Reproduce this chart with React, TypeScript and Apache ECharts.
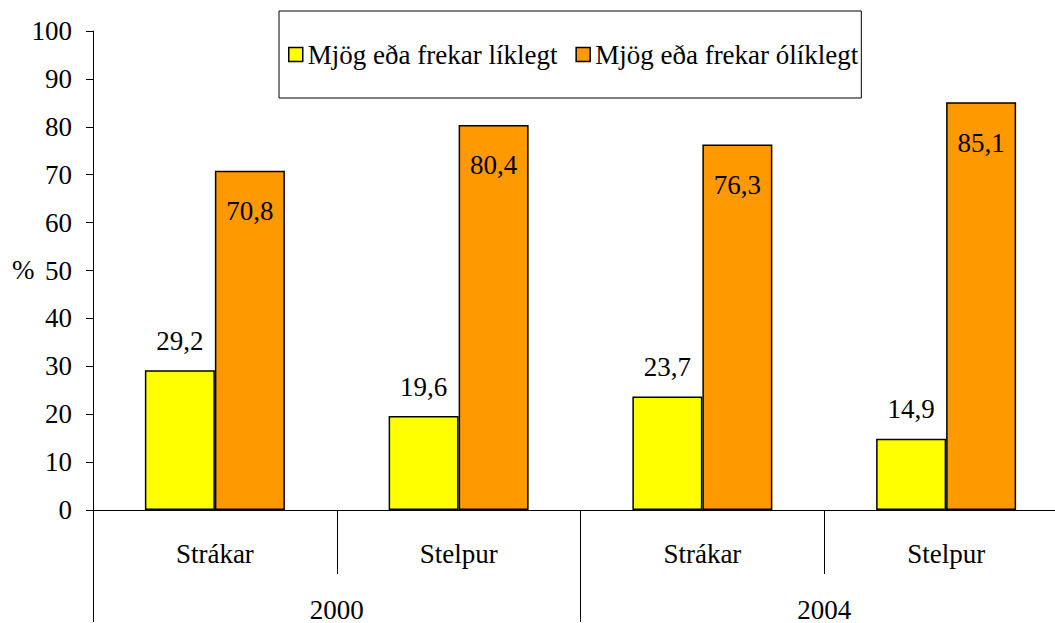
import React, { useEffect, useRef } from "react";
import * as echarts from "echarts";

const groups = ["Strákar", "Stelpur", "Strákar", "Stelpur"];
const years = ["2000", "2004"];
const likely = [29.2, 19.6, 23.7, 14.9];
const unlikely = [70.8, 80.4, 76.3, 85.1];
const seriesNames = ["Mjög eða frekar líklegt", "Mjög eða frekar ólíklegt"];

const FONT = "Liberation Serif";
const FS = 27;

export default function App() {
  const ref = useRef<HTMLDivElement>(null);
  useEffect(() => {
    if (!ref.current) return;
    const chart = echarts.init(ref.current, undefined, { renderer: "svg" });
    const fmt = (p: any) => Number(p.value).toFixed(1).replace(".", ",");
    chart.setOption({
      animation: false,
      backgroundColor: "#fff",
      textStyle: { fontFamily: FONT, color: "#000" },
      grid: { left: 93, top: 31, width: 975, height: 480, containLabel: false },
      legend: {
        left: 279,
        top: 11,
        data: seriesNames,
        icon: "rect",
        itemWidth: 14,
        itemHeight: 14,
        itemGap: 18,
        backgroundColor: "#fff",
        borderColor: "#000",
        borderWidth: 1,
        padding: [30, 3, 30, 9],
        textStyle: { fontFamily: FONT, fontSize: FS, color: "#000" },
        itemStyle: { borderColor: "#000", borderWidth: 1.5 },
      },
      graphic: [
        {
          type: "text",
          left: 12,
          top: 256,
          style: { text: "%", fontFamily: FONT, fontSize: FS, fill: "#000" },
        },
      ],
      xAxis: [
        {
          type: "category",
          data: groups,
          position: "bottom",
          axisLine: { show: true, lineStyle: { color: "#000", width: 1 } },
          axisTick: { show: true, length: 64, lineStyle: { color: "#000" } },
          axisLabel: { fontFamily: FONT, fontSize: FS, color: "#000", margin: 30 },
        },
        {
          type: "category",
          data: years,
          position: "bottom",
          axisLine: { show: false },
          axisTick: { show: true, length: 112, lineStyle: { color: "#000" } },
          axisLabel: { fontFamily: FONT, fontSize: FS, color: "#000", margin: 86 },
        },
      ],
      yAxis: {
        type: "value",
        min: 0,
        max: 100,
        interval: 10,
        axisLine: { show: true, lineStyle: { color: "#000" } },
        axisTick: { show: true, length: 7, inside: false, lineStyle: { color: "#000" } },
        splitLine: { show: false },
        axisLabel: { fontFamily: FONT, fontSize: FS, color: "#000", margin: 21 },
      },
      series: [
        {
          name: seriesNames[0],
          type: "bar",
          xAxisIndex: 0,
          data: likely,
          barWidth: 70,
          barGap: "0%",
          itemStyle: { color: "#FFFF00", borderColor: "#000", borderWidth: 1.5 },
          label: {
            show: true,
            position: "top",
            distance: 16,
            formatter: fmt,
            fontFamily: FONT,
            fontSize: FS,
            color: "#000",
          },
        },
        {
          name: seriesNames[1],
          type: "bar",
          xAxisIndex: 0,
          data: unlikely,
          barWidth: 70,
          barGap: "0%",
          itemStyle: { color: "#FF9900", borderColor: "#000", borderWidth: 1.5 },
          label: {
            show: true,
            position: "insideTop",
            distance: 27,
            formatter: fmt,
            fontFamily: FONT,
            fontSize: FS,
            color: "#000",
          },
        },
      ],
    });
    return () => chart.dispose();
  }, []);
  return (
    <div
      style={{
        position: "fixed",
        left: 0,
        top: 0,
        width: 1055,
        height: 623,
        overflow: "hidden",
        background: "#fff",
      }}
    >
      <div ref={ref} style={{ width: 1075, height: 623 }} />
    </div>
  );
}
